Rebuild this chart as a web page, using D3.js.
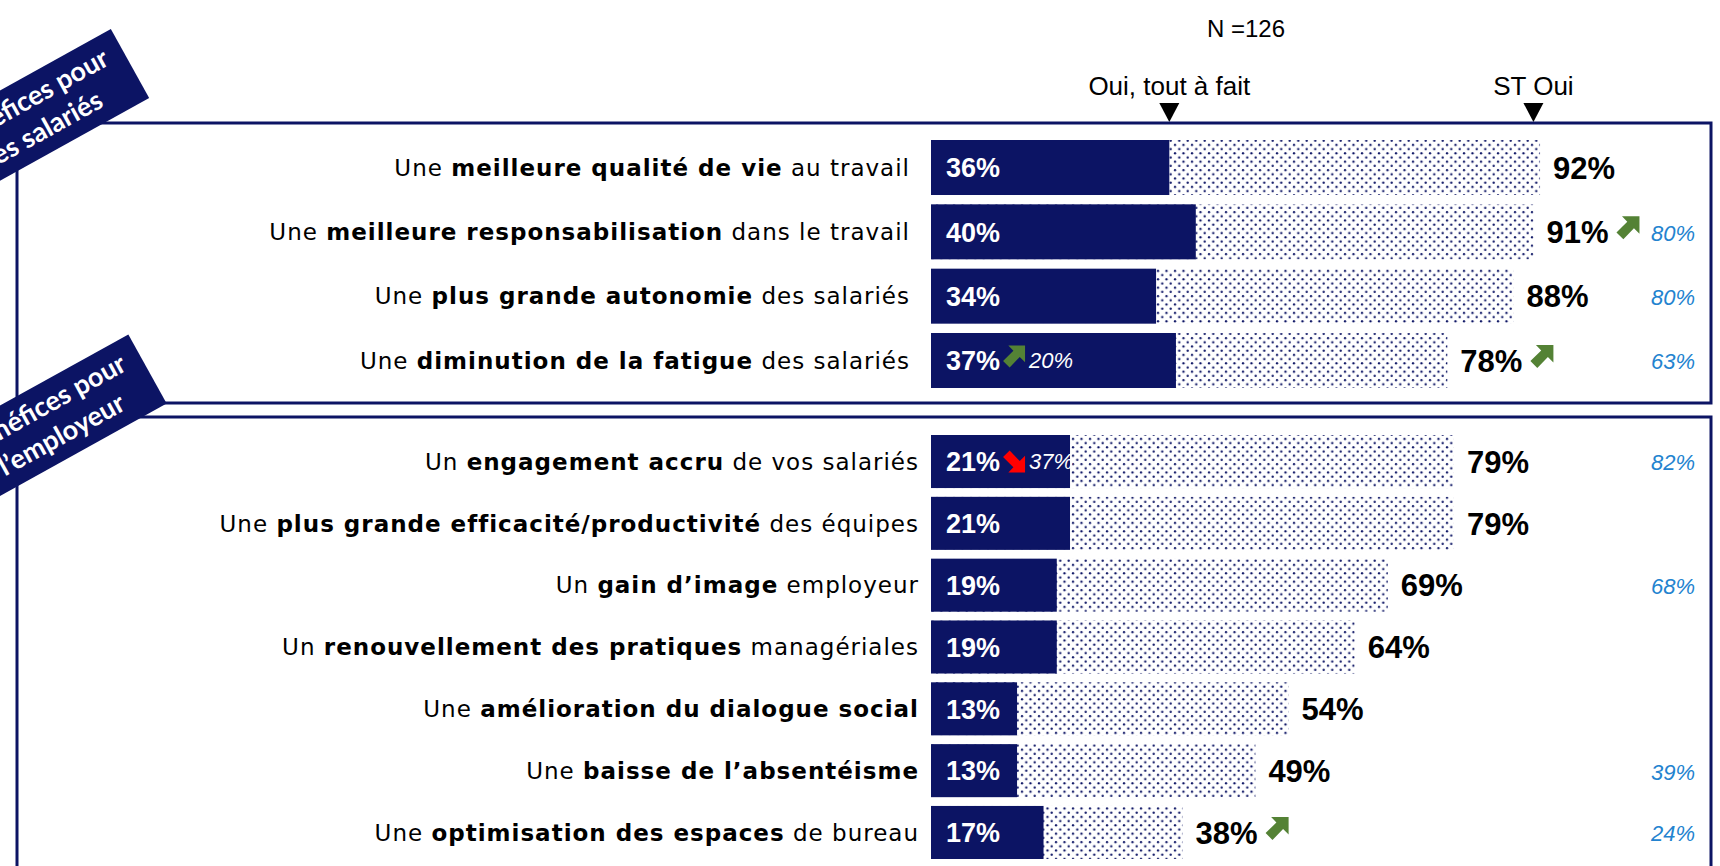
<!DOCTYPE html>
<html>
<head>
<meta charset="utf-8">
<script src="https://cdn.jsdelivr.net/npm/d3@7"></script>
<style>
  html, body { margin: 0; padding: 0; background: #fff; }
  svg { display: block; }
</style>
</head>
<body>
<svg id="chart" width="1720" height="866"></svg>
<script>
// ---- data -------------------------------------------------------------
const sampleLabel = 'N =126';
const markerLabels = ['Oui, tout à fait', 'ST Oui'];
const markerValues = [36, 91];

const bannerSalaries = ['Bénéfices pour', 'les salariés'];
const labelsSalaries = [
  'Une **meilleure qualité de vie** au travail',
  'Une **meilleure responsabilisation** dans le travail',
  'Une **plus grande autonomie** des salariés',
  'Une **diminution de la fatigue** des salariés',
];
const toutSalaries      = [36, 40, 34, 37];
const stOuiSalaries     = [92, 91, 88, 78];
const prevToutSalaries  = [null, null, null, 20];
const trendToutSalaries = [null, null, null, 'up'];
const prevStSalaries    = [null, 80, 80, 63];
const trendStSalaries   = [null, 'up', null, 'up'];

const bannerEmployeur = ['Bénéfices pour', 'l’employeur'];
const labelsEmployeur = [
  'Un **engagement accru** de vos salariés',
  'Une **plus grande efficacité/productivité** des équipes',
  'Un **gain d’image** employeur',
  'Un **renouvellement des pratiques** managériales',
  'Une **amélioration du dialogue social**',
  'Une **baisse de l’absentéisme**',
  'Une **optimisation des espaces** de bureau',
];
const toutEmployeur      = [21, 21, 19, 19, 13, 13, 17];
const stOuiEmployeur     = [79, 79, 69, 64, 54, 49, 38];
const prevToutEmployeur  = [37, null, null, null, null, null, null];
const trendToutEmployeur = ['down', null, null, null, null, null, null];
const prevStEmployeur    = [82, null, 68, null, null, 39, 24];
const trendStEmployeur   = [null, null, null, null, null, null, 'up'];

// ---- chart ------------------------------------------------------------
const NAVY = '#0c1464', GREEN = '#548235', RED = '#ff0000', BLUE = '#2383cf';
const LABEL_FONT = '"DejaVu Sans", sans-serif';
const NUM_FONT = '"Liberation Sans", Arial, sans-serif';

const svg = d3.select('#chart');
const defs = svg.append('defs');
const pat = defs.append('pattern').attr('id', 'dots')
  .attr('patternUnits', 'userSpaceOnUse').attr('width', 8.5).attr('height', 8.4);
pat.append('rect').attr('width', 8.5).attr('height', 8.4).attr('fill', '#fff');
pat.append('circle').attr('cx', 2).attr('cy', 2).attr('r', 1.15).attr('fill', NAVY);
pat.append('circle').attr('cx', 6.25).attr('cy', 6.2).attr('r', 1.15).attr('fill', NAVY);

const x = d3.scaleLinear().domain([0, 100]).range([931, 1593]);

const sections = [
  { banner: bannerSalaries, labels: labelsSalaries, tout: toutSalaries, st: stOuiSalaries,
    prevTout: prevToutSalaries, trendTout: trendToutSalaries, prevSt: prevStSalaries, trendSt: trendStSalaries,
    box: [17, 123, 1711, 403], yRange: [140, 388], pad: 0.145, labelGap: 21, bannerMid: [130, 63.5] },
  { banner: bannerEmployeur, labels: labelsEmployeur, tout: toutEmployeur, st: stOuiEmployeur,
    prevTout: prevToutEmployeur, trendTout: trendToutEmployeur, prevSt: prevStEmployeur, trendSt: trendStEmployeur,
    box: [17, 417, 1711, 900], yRange: [435, 859], pad: 0.142, labelGap: 12, bannerMid: [147.5, 369] },
];

// bold arrow glyph in a unit box, drawn to size
const ARROW_UP = [[1,0],[1,0.76],[0.76,0.52],[0.3,1],[0,0.7],[0.47,0.24],[0.24,0]];
const ARROW_DOWN = ARROW_UP.map(([a, b]) => [a, 1 - b]);
function drawArrow(g, x0, cy, dir, size = 22) {
  const pts = dir === 'up' ? ARROW_UP : ARROW_DOWN;
  const top = dir === 'up' ? cy - size / 2 - 4 : cy - size / 2;
  g.append('polygon')
    .attr('points', pts.map(([a, b]) => `${x0 + a * size},${top + b * size}`).join(' '))
    .attr('fill', dir === 'up' ? GREEN : RED);
}

function richText(sel, str) {
  str.split('**').forEach((part, i) => {
    if (!part) return;
    sel.append('tspan').attr('font-weight', i % 2 ? 700 : 400).text(part);
  });
}

// header
svg.append('text').attr('x', 1246).attr('y', 37).attr('text-anchor', 'middle')
  .attr('font-family', NUM_FONT).attr('font-size', 24).attr('fill', '#000').text(sampleLabel);
markerLabels.forEach((lab, i) => {
  const mx = x(markerValues[i]);
  svg.append('text').attr('x', mx).attr('y', 95).attr('text-anchor', 'middle')
    .attr('font-family', NUM_FONT).attr('font-size', 26).attr('fill', '#000').text(lab);
  svg.append('path').attr('d', `M${mx - 10},103L${mx + 10},103L${mx},122Z`).attr('fill', '#000');
});

sections.forEach((s) => {
  const [bx0, by0, bx1, by1] = s.box;
  svg.append('rect').attr('x', bx0).attr('y', by0).attr('width', bx1 - bx0).attr('height', by1 - by0)
    .attr('fill', 'none').attr('stroke', NAVY).attr('stroke-width', 3);

  const y = d3.scaleBand().domain(d3.range(s.labels.length)).range(s.yRange)
    .paddingInner(s.pad).paddingOuter(0);
  const g = svg.append('g');

  s.labels.forEach((lab, i) => {
    const y0 = y(i), bh = y.bandwidth(), cy = y0 + bh / 2;

    const t = g.append('text').attr('x', x(0) - s.labelGap).attr('y', cy).attr('dy', '0.36em')
      .attr('text-anchor', 'end').attr('font-family', LABEL_FONT).attr('font-size', 23)
      .attr('letter-spacing', 1).attr('fill', '#000');
    richText(t, lab);

    g.append('rect').attr('x', x(0)).attr('y', y0).attr('width', x(s.st[i]) - x(0)).attr('height', bh)
      .attr('fill', 'url(#dots)');
    g.append('rect').attr('x', x(0)).attr('y', y0).attr('width', x(s.tout[i]) - x(0)).attr('height', bh)
      .attr('fill', NAVY);

    const vt = g.append('text').attr('x', x(0) + 15).attr('y', cy).attr('dy', '0.36em')
      .attr('font-family', NUM_FONT).attr('font-weight', 700).attr('font-size', 27).attr('fill', '#fff')
      .text(`${s.tout[i]}%`);
    if (s.trendTout[i]) {
      const ax = x(0) + 15 + vt.node().getComputedTextLength() + 3;
      drawArrow(g, ax, cy, s.trendTout[i], 22);
      g.append('text').attr('x', ax + 26).attr('y', cy).attr('dy', '0.36em')
        .attr('font-family', NUM_FONT).attr('font-style', 'italic').attr('font-size', 22).attr('fill', '#fff')
        .text(`${s.prevTout[i]}%`);
    }

    const tt = g.append('text').attr('x', x(s.st[i]) + 13).attr('y', cy).attr('dy', '0.36em')
      .attr('font-family', NUM_FONT).attr('font-weight', 700).attr('font-size', 31).attr('fill', '#000')
      .text(`${s.st[i]}%`);
    if (s.trendSt[i]) {
      drawArrow(g, x(s.st[i]) + 13 + tt.node().getComputedTextLength() + 8, cy, s.trendSt[i], 23);
    }
    if (s.prevSt[i] != null) {
      g.append('text').attr('x', 1695).attr('y', cy + 1).attr('dy', '0.36em').attr('text-anchor', 'end')
        .attr('font-family', NUM_FONT).attr('font-style', 'italic').attr('font-size', 22).attr('fill', BLUE)
        .text(`${s.prevSt[i]}%`);
    }
  });

  // rotated banner, drawn over the box corner
  const ang = -29 * Math.PI / 180, L = 230;
  const cx = s.bannerMid[0] - (L / 2) * Math.cos(ang);
  const cyb = s.bannerMid[1] - (L / 2) * Math.sin(ang);
  const bg = svg.append('g').attr('transform', `translate(${cx},${cyb}) rotate(-29)`);
  bg.append('rect').attr('x', -L / 2).attr('y', -39.5).attr('width', L).attr('height', 79).attr('fill', NAVY);
  s.banner.forEach((line, k) => {
    bg.append('text').attr('x', 8).attr('y', k === 0 ? -9 : 25).attr('text-anchor', 'middle')
      .attr('font-family', 'Lato, sans-serif').attr('font-weight', 700).attr('font-size', 27)
      .attr('fill', '#fff').text(line);
  });
});
</script>
</body>
</html>
